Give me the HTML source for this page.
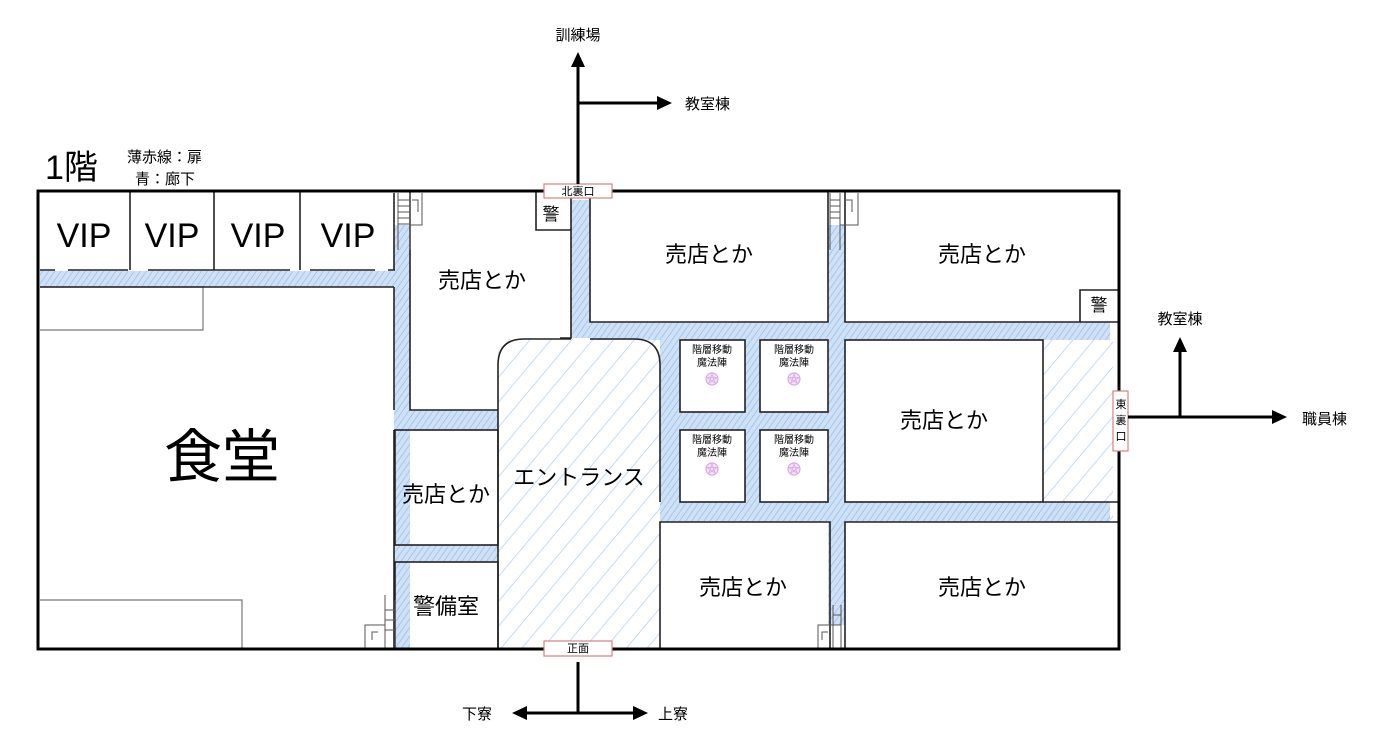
<!DOCTYPE html>
<html><head><meta charset="utf-8"><style>
html,body{margin:0;padding:0;background:#fff;}
svg{display:block;font-family:"Liberation Sans","Noto Sans CJK JP",sans-serif;}
</style></head><body>
<svg width="1380" height="753" viewBox="0 0 1380 753" xmlns="http://www.w3.org/2000/svg">
<defs>
<pattern id="dense" width="5" height="5" patternUnits="userSpaceOnUse" patternTransform="rotate(35)">
<rect width="5" height="5" fill="#cfe1f6"/><line x1="0" y1="0" x2="0" y2="5" stroke="#a5c6ec" stroke-width="2"/>
</pattern>
<pattern id="sparse" width="16" height="16" patternUnits="userSpaceOnUse" patternTransform="rotate(40)">
<line x1="0" y1="0" x2="0" y2="16" stroke="#b3cfef" stroke-width="1.5"/>
</pattern>
</defs>

<!-- corridors -->
<g fill="url(#dense)">
<rect x="40" y="271" width="370" height="16"/>
<rect x="394" y="225" width="16" height="424"/>
<rect x="571" y="200" width="19" height="138"/>
<rect x="410" y="410" width="88" height="20"/>
<rect x="410" y="545" width="88" height="17"/>
<rect x="590" y="322" width="520" height="18"/>
<rect x="660" y="340" width="20" height="182"/>
<rect x="745" y="340" width="15" height="162"/>
<rect x="828" y="225" width="17" height="400"/>
<rect x="680" y="412" width="148" height="18"/>
<rect x="660" y="502" width="450" height="20"/>
</g>
<rect x="498" y="339" width="162" height="310" fill="url(#sparse)"/>
<rect x="1043" y="340" width="70" height="182" fill="url(#sparse)"/>

<!-- gray rects -->
<g fill="none" stroke="#777" stroke-width="1.2">
<path d="M40,287 H203 V330 H40"/>
<path d="M40,600 H242 V649"/>
</g>

<!-- walls -->
<g fill="none" stroke="#222" stroke-width="1.6">
<line x1="130" y1="191" x2="130" y2="270"/>
<line x1="214" y1="191" x2="214" y2="270"/>
<line x1="300" y1="191" x2="300" y2="270"/>
<path d="M40,270 H55 M68,270 H128 M148,270 H290 M310,270 H375 M388,270 H395"/>
<line x1="40" y1="287" x2="394" y2="287"/>
<line x1="394" y1="193" x2="394" y2="270"/>
<line x1="394" y1="287" x2="394" y2="410"/>
<path d="M410,191 V410 H498"/>
<path d="M536,191 V230 H571"/>
<path d="M571,191 V338 H560"/>
<path d="M590,191 V322 H828 V191"/>
<path d="M845,191 V322 H1119"/>
<path d="M1080,322 V290 H1119"/>
<path d="M498,649 V365 Q498,339 524,339 H571 M590,339 H634 Q660,339 660,365 V502"/>
<rect x="395" y="430" width="103" height="115"/>
<rect x="395" y="562" width="103" height="87"/>
<line x1="394" y1="430" x2="394" y2="649"/>
<rect x="680" y="340" width="65" height="72"/>
<rect x="760" y="340" width="68" height="72"/>
<rect x="680" y="430" width="65" height="72"/>
<rect x="760" y="430" width="68" height="72"/>
<rect x="845" y="340" width="198" height="162"/>
<path d="M660,649 V522 H830 V649"/>
<path d="M845,649 V522 H1119"/>
<path d="M1043,502 H1119"/>
</g>

<!-- stairs -->
<g fill="none" stroke="#555" stroke-width="1">
<path d="M398,193 V250 M410,193 V250 M398,200 H410 M398,206 H410 M398,212 H410 M398,218 H410 M398,224 H410 M410,225 H422 V193 M412,200 H418 V212"/>
<path d="M830,193 V250 M840,193 V250 M830,200 H840 M830,206 H840 M830,212 H840 M830,218 H840 M840,225 H858 V193 M845,200 H852 V212"/>
<path d="M385,595 V649 M395,600 V649 M385,610 H395 M385,620 H395 M385,630 H395 M365,649 V625 H385 M372,640 V632 H378"/>
<path d="M833,605 V649 M841,605 V649 M833,615 H841 M833,625 H841 M818,649 V625 H833 M822,640 V632 H828"/>
</g>

<!-- outer -->
<rect x="38" y="191" width="1081" height="458" fill="none" stroke="#000" stroke-width="3"/>

<!-- doors -->
<g fill="#fff" stroke="#d98080" stroke-width="1.2">
<rect x="544" y="184" width="68" height="14"/>
<rect x="544" y="641" width="68" height="15"/>
<rect x="1113" y="391" width="15" height="60"/>
</g>
<g font-size="11" fill="#000" text-anchor="middle">
<text x="578" y="195">北裏口</text>
<text x="578" y="652">正面</text>
<text x="1121" y="408">東</text>
<text x="1121" y="424">裏</text>
<text x="1121" y="440">口</text>
</g>

<!-- arrows -->
<g stroke="#000" stroke-width="3" fill="none">
<line x1="578" y1="184" x2="578" y2="66"/>
<line x1="578" y1="103" x2="660" y2="103"/>
<line x1="1128" y1="417" x2="1275" y2="417"/>
<line x1="1180" y1="417" x2="1180" y2="350"/>
<line x1="578" y1="662" x2="578" y2="713"/>
<line x1="524" y1="713" x2="636" y2="713"/>
</g>
<g fill="#000">
<path d="M578,52 L571,67 L585,67 z"/>
<path d="M672,103 L657,96 L657,110 z"/>
<path d="M1287,417 L1272,410 L1272,424 z"/>
<path d="M1180,337 L1173,352 L1187,352 z"/>
<path d="M512,713 L527,706 L527,720 z"/>
<path d="M648,713 L633,706 L633,720 z"/>
</g>

<!-- labels -->
<g fill="#000">
<text x="578" y="40" font-size="15" text-anchor="middle">訓練場</text>
<text x="685" y="109" font-size="15">教室棟</text>
<text x="1180" y="324" font-size="15" text-anchor="middle">教室棟</text>
<text x="1302" y="424" font-size="15">職員棟</text>
<text x="462" y="719" font-size="15">下寮</text>
<text x="658" y="719" font-size="15">上寮</text>
<text x="45" y="179" font-size="34">1階</text>
<text x="127" y="162" font-size="15">薄赤線：扉</text>
<text x="135" y="184" font-size="15">青：廊下</text>
<g font-size="34" text-anchor="middle">
<text x="84" y="247">VIP</text>
<text x="172" y="247">VIP</text>
<text x="258" y="247">VIP</text>
<text x="348" y="247">VIP</text>
</g>
<text x="222" y="477" font-size="58" text-anchor="middle">食堂</text>
<g font-size="22" text-anchor="middle">
<text x="482" y="288">売店とか</text>
<text x="709" y="262">売店とか</text>
<text x="982" y="262">売店とか</text>
<text x="944" y="428">売店とか</text>
<text x="446" y="502">売店とか</text>
<text x="446" y="614">警備室</text>
<text x="579" y="485">エントランス</text>
<text x="743" y="595">売店とか</text>
<text x="982" y="595">売店とか</text>
</g>
<text x="551" y="220" font-size="17" text-anchor="middle">警</text>
<text x="1099" y="311" font-size="17" text-anchor="middle">警</text>
<g font-size="10" text-anchor="middle">
<text x="712" y="353">階層移動</text><text x="712" y="366">魔法陣</text>
<text x="794" y="353">階層移動</text><text x="794" y="366">魔法陣</text>
<text x="712" y="443">階層移動</text><text x="712" y="456">魔法陣</text>
<text x="794" y="443">階層移動</text><text x="794" y="456">魔法陣</text>
</g>
</g>
<g fill="#f3e3f8" stroke="#d9a6e8" stroke-width="1.2">
<circle cx="712" cy="379" r="6"/><circle cx="794" cy="379" r="6"/>
<circle cx="712" cy="469" r="6"/><circle cx="794" cy="469" r="6"/>
</g>
<g fill="none" stroke="#d9a6e8" stroke-width="0.8">
<path d="M712,374 L715,383 L707,377.5 L717,377.5 L709,383 z"/>
<path d="M794,374 L797,383 L789,377.5 L799,377.5 L791,383 z"/>
<path d="M712,464 L715,473 L707,467.5 L717,467.5 L709,473 z"/>
<path d="M794,464 L797,473 L789,467.5 L799,467.5 L791,473 z"/>
</g>
</svg>
</body></html>
